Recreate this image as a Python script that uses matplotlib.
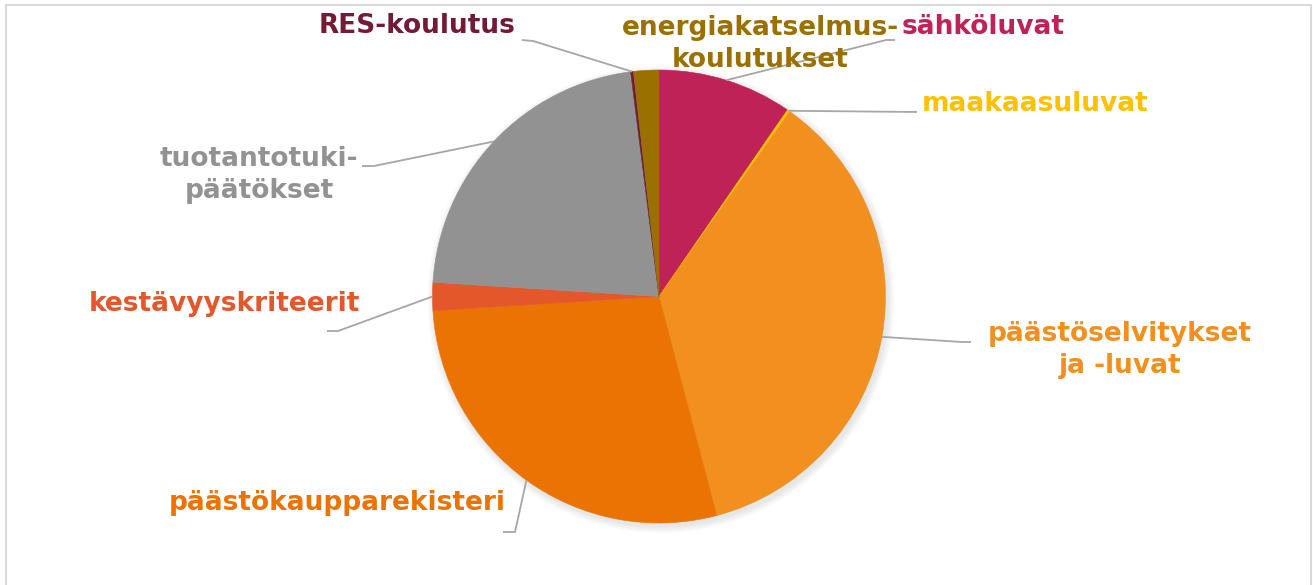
import numpy as np
import matplotlib
matplotlib.use("Agg")
import matplotlib.pyplot as plt
from matplotlib.patches import Rectangle

W, H = 1313, 585

# Data (clockwise from 12 o'clock), percent shares
categories = ["sähköluvat", "maakaasuluvat", "päästöselvitykset\nja -luvat",
              "päästökaupparekisteri", "kestävyyskriteerit",
              "tuotantotuki-\npäätökset", "RES-koulutus",
              "energiakatselmus-\nkoulutukset"]
values = [9.6, 0.2, 36.1, 28.1, 2.0, 22.0, 0.2, 1.8]
colors = ["#BE2257", "#FFC000", "#F18F1F", "#EB7303", "#E3572A",
          "#929292", "#731A36", "#9A7000"]
text_colors = ["#BE2257", "#FFC000", "#F18F1F", "#EB7303", "#E3572A",
               "#929292", "#731A36", "#9A7000"]

fig = plt.figure(figsize=(W / 100, H / 100), dpi=100)
ax = fig.add_axes([0, 0, 1, 1])
ax.set_xlim(0, W)
ax.set_ylim(0, H)
ax.set_aspect("equal")
ax.axis("off")

# frame
ax.add_patch(Rectangle((5.5, -10), 1305, H - 4.5 + 10, fill=False,
                       edgecolor="#D9D9D9", linewidth=1.5))

cx, cy, R = 659, H - 296.5, 226.5

# soft shadow
for i in range(8):
    ax.add_patch(plt.Circle((cx + 2, cy - 3), R + 1 + i * 0.9,
                            color="black", alpha=0.012, zorder=1, lw=0))

wedges, _ = ax.pie(values, colors=colors, startangle=90, counterclock=False,
                   center=(cx, cy), radius=R,
                   wedgeprops=dict(linewidth=0.4))
for w, c in zip(wedges, colors):
    w.set_zorder(2)
    w.set_edgecolor(c)
ax.set_xlim(0, W)
ax.set_ylim(0, H)

def edge_point(i, frac=0.5):
    w = wedges[i]
    a = np.deg2rad(w.theta1 + (w.theta2 - w.theta1) * frac)
    return cx + R * np.cos(a), cy + R * np.sin(a)

fs = 19
font = dict(fontsize=fs, fontweight="bold", family="DejaVu Sans")

# label positions (image pixel coords, y from top), leader path points
labels = {
    0: dict(xy=(983, 27), path=[(895, 40), (886, 40)]),
    1: dict(xy=(1035, 104), path=[(917, 112)]),
    2: dict(xy=(1120, 350), path=[(971, 342), (962, 342)]),
    3: dict(xy=(337, 503), path=[(503, 532), (515, 532)]),
    4: dict(xy=(224, 304), path=[(327, 331), (338, 331)]),
    5: dict(xy=(259, 175), path=[(362, 166), (374, 166)]),
    6: dict(xy=(417, 26), path=[(522, 40), (533, 41)]),
    7: dict(xy=(760, 44), path=None),
}

for i, spec in labels.items():
    x, y = spec["xy"]
    ax.text(x, H - y, categories[i], color=text_colors[i], ha="center",
            va="center", linespacing=1.3, zorder=5, **font)
    if spec["path"]:
        pts = [(px, H - py) for px, py in spec["path"]]
        ex, ey = edge_point(i)
        pts.append((ex, ey))
        xs, ys = zip(*pts)
        ax.plot(xs, ys, color="#A6A6A6", lw=1.3, zorder=3,
                solid_capstyle="butt")

fig.savefig("out.png", dpi=100, facecolor="white")
